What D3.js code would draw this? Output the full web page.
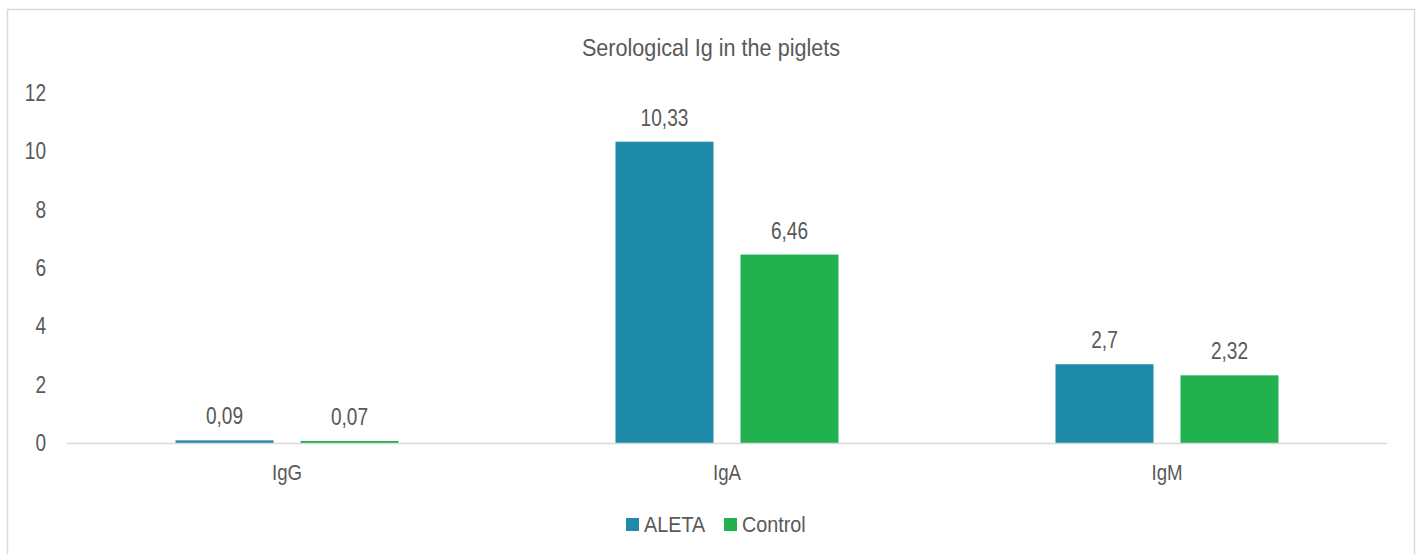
<!DOCTYPE html>
<html><head><meta charset="utf-8">
<script src="https://cdn.jsdelivr.net/npm/d3@7"></script>
<style>html,body{margin:0;padding:0;background:#fff;}svg{display:block;font-family:"Liberation Sans",Arial,sans-serif;}</style>
</head><body>
<svg id="c" width="1416" height="554"></svg>
<script>
const categories = ["IgG", "IgA", "IgM"];
const seriesNames = ["ALETA", "Control"];
const aletaValues = [0.09, 10.33, 2.7];
const controlValues = [0.07, 6.46, 2.32];
const yTicks = [0, 2, 4, 6, 8, 10, 12];
const colors = ["#1F8BAA", "#22B14F"];
const titleText = "Serological Ig in the piglets";

const svg = d3.select("#c");
const textColor = "#595959";
const SX = 0.83; // condensed look
svg.append("rect").attr("x", 7.5).attr("y", 9.5).attr("width", 1407).attr("height", 600)
  .attr("fill", "#fff").attr("stroke", "#d9d9d9").attr("stroke-width", 1.5);

const x0 = d3.scaleBand().domain(categories).range([67, 1387]).padding(0);
const x1 = d3.scaleBand().domain(seriesNames).range([0, x0.bandwidth()])
  .paddingInner(0.216).paddingOuter(0.868);
const y = d3.scaleLinear().domain([0, 12]).range([443, 93]);

svg.append("text").attr("transform", "translate(711,56) scale(0.9,1)").attr("text-anchor", "middle")
  .attr("font-size", 24).attr("fill", textColor).text(titleText);

// y axis labels
const yAxis = d3.axisLeft(y).tickValues(yTicks).tickSize(0).tickPadding(0);
const ya = svg.append("g").attr("transform", "translate(46,0)").call(yAxis);
ya.select(".domain").remove();
ya.selectAll("text").attr("font-size", 23).attr("fill", textColor)
  .attr("font-family", "Liberation Sans, Arial, sans-serif")
  .attr("transform", `scale(${SX},1)`);

const data = categories.map((c, i) => ({cat: c, vals: [aletaValues[i], controlValues[i]]}));
const groups = svg.selectAll("g.grp").data(data).join("g").attr("class", "grp")
  .attr("transform", d => `translate(${x0(d.cat)},0)`);
groups.selectAll("rect").data(d => d.vals.map((v, j) => ({name: seriesNames[j], v, j})))
  .join("rect")
  .attr("x", d => x1(d.name)).attr("width", x1.bandwidth())
  .attr("y", d => y(d.v)).attr("height", d => y(0) - y(d.v))
  .attr("fill", d => colors[d.j]);
groups.selectAll("text.lbl").data(d => d.vals.map((v, j) => ({name: seriesNames[j], v, j})))
  .join("text").attr("class", "lbl")
  .attr("transform", d => `translate(${x1(d.name) + x1.bandwidth() / 2},${y(d.v) - 16}) scale(${SX},1)`)
  .attr("text-anchor", "middle").attr("font-size", 23).attr("fill", textColor)
  .text(d => String(d.v).replace(".", ","));

// x axis
svg.append("line").attr("x1", 67).attr("x2", 1387).attr("y1", y(0) + 0.5).attr("y2", y(0) + 0.5)
  .attr("stroke", "#d9d9d9").attr("stroke-width", 1.5);
const xAxis = d3.axisBottom(x0).tickSize(0).tickPadding(0);
const xa = svg.append("g").attr("transform", `translate(0,${y(0)})`).call(xAxis);
xa.select(".domain").remove();
xa.selectAll("text").attr("dy", null).attr("y", 37).attr("font-size", 22.5).attr("fill", textColor)
  .attr("font-family", "Liberation Sans, Arial, sans-serif")
  .attr("transform", `scale(${SX},1)`);

// legend
const legendX = [626, 724];
const lg = svg.selectAll("g.leg").data(seriesNames).join("g").attr("class", "leg")
  .attr("transform", (d, i) => `translate(${legendX[i]},518)`);
lg.append("rect").attr("width", 13).attr("height", 13).attr("fill", (d, i) => colors[i]);
lg.append("text").attr("transform", "translate(18,14) scale(0.9,1)").attr("font-size", 22)
  .attr("fill", textColor).text(d => d);
</script>
</body></html>
